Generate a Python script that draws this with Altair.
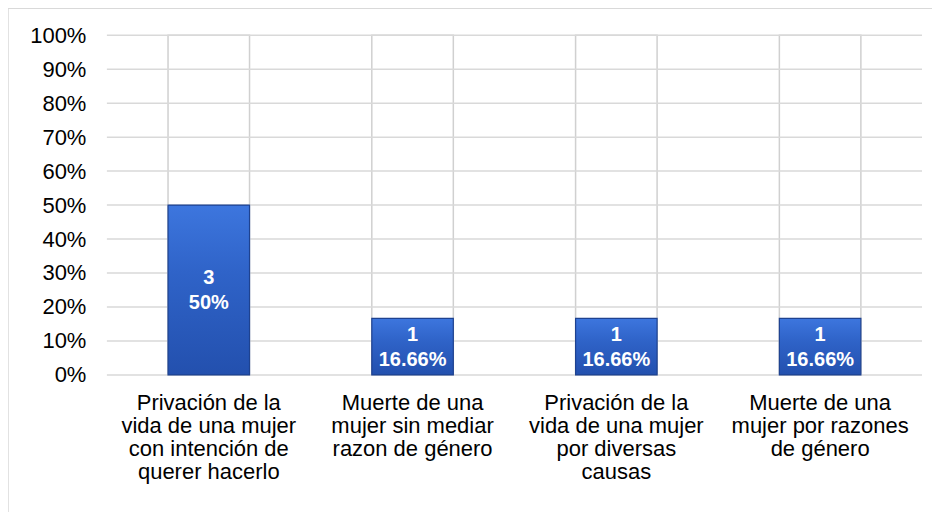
import altair as alt
import pandas as pd

categories = [
    "Privación de la|vida de una mujer|con intención de|querer hacerlo",
    "Muerte de una|mujer sin mediar|razon de género",
    "Privación de la|vida de una mujer|por diversas|causas",
    "Muerte de una|mujer por razones|de género",
]
counts = [3, 1, 1, 1]
shares = [0.50, 0.1666, 0.1666, 0.1666]
share_text = ["50%", "16.66%", "16.66%", "16.66%"]
y_ticks = [0.0, 0.1, 0.2, 0.3, 0.4, 0.5, 0.6, 0.7, 0.8, 0.9, 1.0]

df = pd.DataFrame({
    "cat": categories,
    "count": counts,
    "share": shares,
    "pct": share_text,
    "full": [1.0] * len(categories),
})
df["label"] = [f"{c}|{p}" for c, p in zip(counts, share_text)]
ticks_df = pd.DataFrame({"t": y_ticks})

FONT = "Liberation Sans"
W, H = 816, 340

x = alt.X("cat:N", sort=categories, title=None,
          scale=alt.Scale(paddingInner=0.6, paddingOuter=0.3),
          axis=alt.Axis(labelAngle=0, labelExpr="split(datum.label, '|')",
                        labelFontSize=22, labelFont=FONT, labelColor="#000000",
                        labelLineHeight=23, labelPadding=18, labelLimit=300,
                        labelOverlap=False,
                        domain=False, ticks=False, grid=False,
                        labelBaseline="top", zindex=1))

y_scale = alt.Scale(domain=[0, 1], nice=False)
y_axis = alt.Axis(format=".0%", values=y_ticks, labelOverlap=False,
                  labelFontSize=22, labelFont=FONT, labelColor="#000000",
                  labelPadding=21, domain=False, ticks=False,
                  grid=False, zindex=1)


def yenc(field):
    return alt.Y(field, scale=y_scale, title=None, axis=y_axis)


frame = alt.Chart(df).mark_rect(fill="white", stroke="#d9d9d9", strokeWidth=1.5).encode(
    x=alt.value(-99), x2=alt.value(W + 40), y=alt.value(-27), y2=alt.value(H + 160)
)

tracks = alt.Chart(df).mark_bar(fill="white", stroke="#d0d0d0", strokeWidth=1.5).encode(
    x=x,
    y=yenc("full:Q"),
)

gridlines = alt.Chart(ticks_df).mark_rule(color="#d9d9d9", strokeWidth=1.5).encode(
    y=yenc("t:Q"),
    x=alt.value(0), x2=alt.value(W),
)

bars = alt.Chart(df).mark_bar(
    color=alt.Gradient(
        gradient="linear", x1=0, x2=0, y1=0, y2=1,
        stops=[alt.GradientStop(color="#3d76de", offset=0),
               alt.GradientStop(color="#2f63c8", offset=0.4),
               alt.GradientStop(color="#2350ae", offset=1)]),
    stroke="#1e4290", strokeWidth=1.2,
).encode(
    x=x,
    y=yenc("share:Q"),
)

labels = alt.Chart(df).transform_calculate(
    mid="datum.share / 2", lines="split(datum.label, '|')"
).mark_text(
    color="white", font=FONT, fontSize=20, fontWeight="bold",
    lineHeight=25, baseline="middle", align="center", dy=-12
).encode(
    x=x,
    y=yenc("mid:Q"),
    text="lines:N",
)

chart = alt.layer(frame, tracks, gridlines, bars, labels).properties(
    width=W, height=H,
    autosize=alt.AutoSizeParams(type="none"),
    padding={"left": 99, "top": 27, "right": 10, "bottom": 140},
).configure_view(stroke=None)

chart.save("out.html", embed_options={"renderer": "svg", "actions": False})
